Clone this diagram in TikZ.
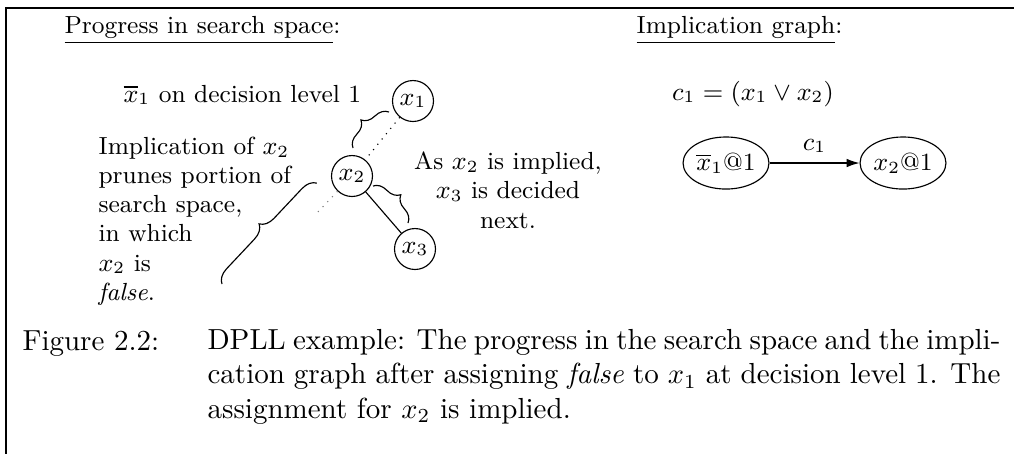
\documentclass[tikz,border=0pt]{standalone}
\usetikzlibrary{shapes.geometric,decorations.pathreplacing,arrows.meta}
\begin{document}
\begin{tikzpicture}[x=0.3515pt,y=-0.3515pt,
  dfont/.style={font=\fontsize{8.7}{10.2}\selectfont},
  cfont/.style={font=\fontsize{10.2}{12}\selectfont},
  var/.style={dfont,circle,draw,minimum size=14.4pt,inner sep=0pt},
  impl/.style={dfont,ellipse,draw,minimum width=30.2pt,minimum height=18.3pt,inner sep=0pt},
  txt/.style={dfont,inner sep=0pt},
  ctxt/.style={cfont,inner sep=0pt},
  brc/.style={decorate,decoration={brace,amplitude=5pt}},
  frame/.style={line width=0.9pt},
]
\useasboundingbox (0,0) rectangle (1014,454);
% frame
\coordinate (ftl) at (6,8);
\coordinate (ftr) at (1014,8);
\coordinate (fbl) at (6,454);
\draw[frame] (ftr) -- (ftl) -- (fbl);
% headings
\node[txt,anchor=base west] (h1) at (64,33) {\underline{Progress in search space}:};
\node[txt,anchor=base west] (h2) at (636,33) {\underline{Implication graph}:};
% search tree
\node[var] (x1) at (413,101) {$x_1$};
\node[var] (x2) at (352,176) {$x_2$};
\node[var] (x3) at (415,249) {$x_3$};
\coordinate (pr) at (315,215);
\draw[dotted] (x1) -- (x2);
\draw[gray,dotted] (x2) -- (pr);
\draw (x2) -- (x3);
% braces
\coordinate (ba1) at (353,148); \coordinate (ba2) at (389,112);
\coordinate (bb1) at (373,186); \coordinate (bb2) at (408,223);
\coordinate (bc1) at (222,284); \coordinate (bc2) at (317,183);
\draw[brc] (ba1) -- (ba2);
\draw[brc] (bb1) -- (bb2);
\draw[brc] (bc1) -- (bc2);
% texts
\node[txt,anchor=base west] (lvl) at (123,102) {$\overline{x}_1$ on decision level 1};
\node[txt,anchor=base west,align=left] (prune) at (98,300) {Implication of $x_2$\\prunes portion of\\search space,\\in which\\$x_2$ is\\\emph{false}.};
\node[txt,anchor=base,align=center] (next) at (508,228) {As $x_2$ is implied,\\$x_3$ is decided\\next.};
% implication graph
\node[txt,anchor=base] (cl) at (753,100) {$c_1 = (x_1 \vee x_2)$};
\node[impl] (n1) at (726,163) {$\overline{x}_1$@1};
\node[impl] (n2) at (903,163) {$x_2$@1};
\draw[-{Latex[length=4.5pt,width=3pt]}] (n1) -- node[above,dfont] (lc) {$c_1$} (n2);
% caption
\node[ctxt,anchor=base west] (fig) at (22,350) {Figure 2.2:};
\node[ctxt,anchor=base west,align=left] (cap) at (207,418) {\hbox to 278.7pt{DPLL example: The progress in the search space and the impli-}\\\hbox to 278.7pt{cation graph after assigning \emph{false} to $x_1$ at decision level 1. The}\\assignment for $x_2$ is implied.};
\end{tikzpicture}
\end{document}
